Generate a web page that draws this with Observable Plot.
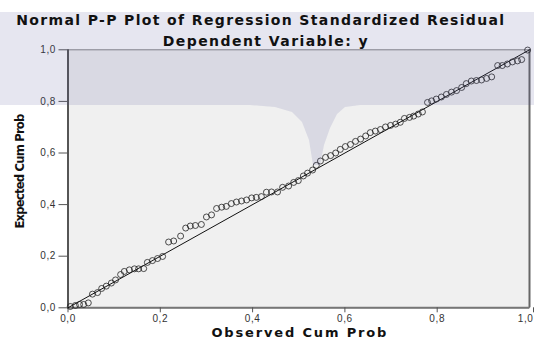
<!DOCTYPE html>
<html><head><meta charset="utf-8">
<script src="https://cdn.jsdelivr.net/npm/d3@7"></script>
<script src="https://cdn.jsdelivr.net/npm/@observablehq/plot@0.6"></script>
<style>
body{margin:0;background:#fff;width:534px;height:338px;overflow:hidden;font-family:"Liberation Sans",Arial,sans-serif;}
#wrap{position:relative;width:534px;height:338px;}
#head{position:relative;height:40px;}
.lbl{position:absolute;white-space:nowrap;font-weight:bold;color:#111;line-height:1;}
#wm{position:absolute;left:0;top:12px;width:534px;height:160px;background:rgba(88,88,155,0.15);pointer-events:none;
clip-path:polygon(0px 0px,534px 0px,534px 93px,360px 93px,345px 95px,337px 102px,330px 116px,324px 133px,320px 153px,313px 153px,309px 128px,302px 110px,292px 100px,275px 95px,250px 93px,0px 93px);}
svg text{letter-spacing:0.6px;}
</style></head>
<body><div id="wrap"><div id="head"></div><div id="chart"></div><div id="wm"></div></div>
<script>
const observed = [0.005,0.016,0.025,0.034,0.044,0.053,0.064,0.073,0.083,0.094,
0.103,0.114,0.122,0.133,0.144,0.153,0.164,0.172,0.183,0.194,
0.205,0.218,0.229,0.244,0.255,0.265,0.276,0.289,0.300,0.311,
0.322,0.333,0.343,0.354,0.365,0.376,0.387,0.398,0.408,0.419,
0.430,0.441,0.454,0.465,0.478,0.489,0.499,0.510,0.519,0.530,
0.538,0.547,0.558,0.569,0.580,0.590,0.601,0.612,0.623,0.634,
0.645,0.655,0.666,0.677,0.688,0.699,0.710,0.720,0.729,0.740,
0.749,0.759,0.768,0.779,0.788,0.798,0.809,0.820,0.831,0.842,
0.853,0.863,0.874,0.885,0.896,0.907,0.918,0.931,0.941,0.952,
0.963,0.974,0.983,0.996];
const expected = [0.005,0.009,0.013,0.013,0.019,0.053,0.059,0.075,0.084,0.096,
0.108,0.129,0.141,0.147,0.151,0.151,0.152,0.176,0.183,0.191,
0.199,0.255,0.259,0.278,0.309,0.317,0.319,0.323,0.352,0.360,
0.385,0.390,0.393,0.404,0.410,0.414,0.418,0.426,0.428,0.431,
0.448,0.449,0.449,0.467,0.472,0.486,0.493,0.511,0.522,0.534,
0.552,0.569,0.583,0.590,0.600,0.614,0.625,0.633,0.645,0.654,
0.666,0.679,0.685,0.691,0.701,0.707,0.712,0.719,0.734,0.738,
0.743,0.751,0.759,0.796,0.802,0.809,0.817,0.827,0.836,0.842,
0.854,0.869,0.879,0.881,0.883,0.889,0.895,0.939,0.939,0.945,
0.953,0.957,0.962,0.999];
const diagonal = [0, 1];
const xTicks = [0, 0.2, 0.4, 0.6, 0.8];
const xLastTick = [1.0];
const yTicks = [0, 0.2, 0.4, 0.6, 0.8, 1.0];
const titleText = "Normal P-P Plot of Regression Standardized Residual";
const subtitleText = "Dependent Variable: y";
const xLabel = "Observed Cum Prob";
const yLabel = "Expected Cum Prob";

const fmt = d => d.toFixed(1).replace(".", ",");
const points = observed.map((x, i) => ({x, y: expected[i]}));

const chart = Plot.plot({
  width: 534, height: 298,
  marginLeft: 67.5, marginRight: 5, marginTop: 9.3, marginBottom: 30.7,
  style: {background: "transparent", fontFamily: "'Liberation Sans', Arial, sans-serif", fontSize: "10px", color: "#333"},
  x: {domain: [0, 1]},
  y: {domain: [0, 1]},
  marks: [
    Plot.frame({fill: "#f0f0f0", stroke: "#888", strokeWidth: 1}),
    Plot.ruleX([1], {stroke: "#666", strokeWidth: 2}),
    Plot.ruleX([0], {stroke: "#555", strokeWidth: 2}),
    Plot.ruleY([0], {stroke: "#777", strokeWidth: 2}),
    Plot.axisX({ticks: xTicks, tickFormat: fmt, tickSize: 5, tickPadding: 2, label: null, stroke: "#555", fill: "#333"}),
    Plot.axisX({ticks: xLastTick, tickFormat: fmt, tickSize: 5, tickPadding: 2, label: null, stroke: "#555", fill: "#333", textAnchor: "end", dx: 4}),
    Plot.axisY({ticks: yTicks, tickFormat: fmt, tickSize: 9, tickPadding: 3, label: null, stroke: "#555", fill: "#333"}),
    Plot.line(diagonal, {x: d => d, y: d => d, stroke: "#111", strokeWidth: 1}),
    Plot.dot(points, {x: "x", y: "y", r: 3, stroke: "#222", strokeWidth: 0.8, fill: "none"})
  ]
});
document.getElementById("chart").appendChild(chart);

const wrap = document.getElementById("wrap");
function addLabel(text, font, target, cx, cy, rotate) {
  const s = document.createElement("span");
  s.className = "lbl";
  s.textContent = text;
  s.style.font = font;
  s.style.lineHeight = "1";
  wrap.appendChild(s);
  const w0 = s.getBoundingClientRect().width;
  const ls = (target - w0) / Math.max(1, text.length - 1);
  s.style.letterSpacing = ls + "px";
  const w = s.offsetWidth, h = s.offsetHeight;
  s.style.left = (cx - w / 2 + ls / 2) + "px";
  s.style.top = (cy - h / 2) + "px";
  if (rotate) s.style.transform = "rotate(-90deg)";
  return s;
}
addLabel(titleText, "bold 14px 'DejaVu Sans', Verdana, sans-serif", 488, 260, 20, false);
addLabel(subtitleText, "bold 14px 'DejaVu Sans', Verdana, sans-serif", 205, 265, 41, false);
addLabel(xLabel, "bold 13px 'DejaVu Sans', Verdana, sans-serif", 175, 299, 332, false);
addLabel(yLabel, "bold 13px 'Liberation Sans Narrow', 'DejaVu Sans Condensed', sans-serif", 115, 19, 171, true);
</script>
</body></html>
